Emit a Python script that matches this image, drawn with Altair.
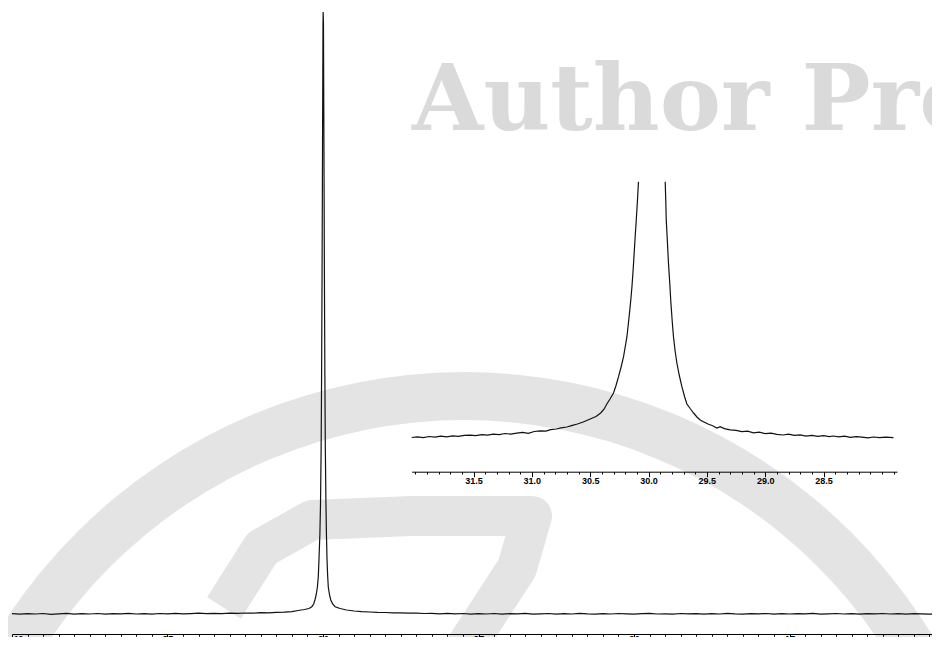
import altair as alt
import pandas as pd

# ---------------- main spectrum (ppm, height above baseline in px units) -------------
main_left_ppm = [40.00, 39.75, 39.50, 39.25, 39.00, 38.75, 38.50, 38.25, 38.00, 37.75,
                 37.50, 37.25, 37.00, 36.75, 36.50, 36.25, 36.00, 35.75, 35.50, 35.25,
                 35.00, 34.75, 34.50, 34.25, 34.00, 33.75, 33.50, 33.25, 33.00, 32.75,
                 32.50, 32.25, 32.00, 31.75, 31.50, 31.25, 31.00]
main_left_int = [0.3, -0.2, 0.4, 0.0, 0.5, -0.3, 0.2, 0.6, -0.1, 0.3,
                 0.0, 0.5, -0.2, 0.4, 0.1, 0.6, 0.0, 0.3, -0.2, 0.5,
                 0.2, 0.6, 0.1, 0.4, 0.8, 0.3, 0.7, 0.4, 0.9, 0.6,
                 1.0, 0.8, 1.3, 1.2, 1.6, 1.8, 2.3]

main_peak_ppm = [30.80, 30.60, 30.45, 30.36, 30.30, 30.26, 30.22, 30.18, 30.15, 30.13,
                 30.10, 30.08, 30.06, 30.045, 30.03, 30.015, 30.00, 29.995, 29.985, 29.97,
                 29.955, 29.94, 29.925, 29.905, 29.89, 29.87, 29.85, 29.83, 29.79, 29.75,
                 29.69, 29.61, 29.45, 29.24, 29.00, 28.75]
main_peak_int = [3.5, 4.5, 5.5, 7.3, 10, 14, 19, 27, 38, 54,
                 80, 110, 165, 240, 340, 470, 590, 602, 590, 470,
                 340, 240, 165, 110, 80, 54, 38, 27, 19, 14,
                 10, 7.3, 5.5, 4.0, 3.0, 2.4]

main_right_ppm = [28.50, 28.25, 28.00, 27.75, 27.50, 27.25, 27.00, 26.75, 26.50, 26.25,
                  26.00, 25.75, 25.50, 25.25, 25.00, 24.75, 24.50, 24.25, 24.00, 23.75,
                  23.50, 23.25, 23.00, 22.75, 22.50, 22.25, 22.00, 21.75, 21.50, 21.25,
                  21.00, 20.75, 20.50, 20.25, 20.00, 19.75, 19.50, 19.25, 19.00, 18.75,
                  18.50, 18.25, 18.00, 17.75, 17.50, 17.25, 17.00, 16.75, 16.50, 16.25,
                  16.00, 15.75, 15.50, 15.25, 15.00, 14.75, 14.50, 14.25, 14.00, 13.75,
                  13.50, 13.25, 13.00, 12.75, 12.50, 12.25, 12.00, 11.75, 11.50, 11.25,
                  11.00, 10.75, 10.50, 10.25, 10.00]
main_right_int = [2.0, 1.6, 1.5, 1.1, 1.2, 0.8, 0.9, 0.5, 0.7, 0.2,
                  0.6, 0.1, 0.5, -0.1, 0.4, 0.0, 0.5, -0.2, 0.3, 0.1,
                  0.6, -0.1, 0.2, 0.5, -0.2, 0.3, 0.0, 0.6, 0.1, -0.1,
                  0.4, 0.0, 0.5, 0.2, -0.2, 0.3, 0.6, 0.0, 0.2, -0.1,
                  0.5, 0.1, 0.4, -0.2, 0.3, 0.0, 0.6, 0.1, -0.1, 0.4,
                  0.2, 0.5, -0.2, 0.3, 0.0, 0.4, 0.1, 0.6, -0.1, 0.2,
                  0.5, 0.0, 0.3, -0.2, 0.4, 0.1, 0.5, 0.0, 0.3, -0.1,
                  0.4, 0.2, -0.2, 0.3, 0.1]

# ---------------- inset (expanded 32.0 - 27.9 ppm), heights in inset px units ---------
inset_low_ppm = [32.03, 31.98, 31.93, 31.88, 31.83, 31.78, 31.73, 31.68, 31.63, 31.58,
                 31.53, 31.48, 31.43, 31.38, 31.33, 31.28, 31.23, 31.18, 31.13, 31.08,
                 31.03, 30.98, 30.93, 30.88, 30.84, 30.79, 30.75, 30.70, 30.66, 30.61,
                 30.56, 30.50, 30.45, 30.41, 30.38, 30.36, 30.33, 30.30, 30.28, 30.257,
                 30.235, 30.214, 30.20, 30.185, 30.175, 30.163, 30.152, 30.142, 30.133, 30.123,
                 30.114, 30.105, 30.095, 30.086]
inset_low_int = [0.5, 1.2, 0.4, 1.5, 0.9, 1.8, 1.1, 2.2, 1.6, 2.6,
                 2.9, 2.3, 3.4, 2.8, 3.9, 3.3, 4.5, 3.9, 4.8, 5.6,
                 4.6, 6.5, 7.2, 6.9, 8.3, 9.0, 10.2, 11.0, 12.4, 14.0,
                 16.0, 19.0, 21.5, 25, 29, 33.5, 39, 45, 52, 61.3,
                 71, 81.3, 91, 101.3, 112, 125, 138, 151.3, 166, 185,
                 202, 218, 237, 256.3]

inset_high_ppm = [29.857, 29.852, 29.848, 29.838, 29.829, 29.818, 29.808, 29.797, 29.786, 29.772,
                  29.757, 29.735, 29.714, 29.69, 29.671, 29.64, 29.614, 29.585, 29.557, 29.529,
                  29.49, 29.45, 29.414, 29.386, 29.35, 29.30, 29.25, 29.20, 29.15, 29.10,
                  29.05, 29.00, 28.95, 28.90, 28.846, 28.80, 28.75, 28.70, 28.65, 28.60,
                  28.55, 28.50, 28.45, 28.417, 28.37, 28.32, 28.27, 28.22, 28.17, 28.12,
                  28.07, 28.02, 27.97, 27.90]
inset_high_int = [256.3, 237, 218, 196, 175, 155, 135, 117, 101.3, 87,
                  75, 62, 51.3, 41, 34, 29, 25, 21, 18, 16.3,
                  14, 12.2, 10, 11.3, 9.4, 8.1, 7.6, 6.3, 6.9, 5.2,
                  5.8, 4.4, 4.9, 3.6, 3.0, 3.8, 2.6, 3.1, 1.9, 2.7,
                  1.6, 2.3, 1.4, 2.0, 1.1, 1.8, 0.6, 1.3, 0.9, 0.2,
                  1.0, 0.4, 0.9, 0.3]

# ---------------- axis ticks ----------------
main_ticks = [round(40 - 0.5 * i, 1) for i in range(61)]
main_labels = [40, 35, 30, 25, 20, 15, 10]
inset_ticks = [round(32.0 - 0.1 * i, 1) for i in range(42)]
inset_labels = [31.5, 31.0, 30.5, 30.0, 29.5, 29.0, 28.5]

# ---------------- watermark decoration ----------------
watermark_text = ["Author Proof"]
logo_path_x = [212, 250, 300, 400, 520, 505, 440]
logo_path_y = [600, 540, 512, 508, 508, 560, 660]

assert len(main_left_ppm) == len(main_left_int)
assert len(main_peak_ppm) == len(main_peak_int)
assert len(main_right_ppm) == len(main_right_int)
assert len(inset_low_ppm) == len(inset_low_int)
assert len(inset_high_ppm) == len(inset_high_int)

main_df = pd.DataFrame({
    "ppm": main_left_ppm + main_peak_ppm + main_right_ppm,
    "intensity": main_left_int + main_peak_int + main_right_int,
})
inset_df = pd.DataFrame({
    "ppm": inset_low_ppm + inset_high_ppm,
    "intensity": inset_low_int + inset_high_int,
    "branch": ["low"] * len(inset_low_ppm) + ["high"] * len(inset_high_ppm),
})
logo_df = pd.DataFrame({"px": logo_path_x, "py": logo_path_y,
                        "k": list(range(len(logo_path_x)))})
wm_df = pd.DataFrame({"t": watermark_text})
ring_df = pd.DataFrame({"r": [1]})

GRAY = "#e4e4e4"
main_label_list = ",".join(str(v) for v in main_labels)
inset_label_list = ",".join(str(int(round(v * 10))) for v in inset_labels)

ring = alt.Chart(ring_df).mark_arc(
    radius=548, radius2=500, theta=4.712, theta2=7.854, color=GRAY
).encode(x=alt.value(452), y=alt.value(912))

seven = alt.Chart(logo_df).mark_line(
    color=GRAY, strokeWidth=40, strokeCap="butt", strokeJoin="round"
).encode(
    x=alt.X("px:Q", scale=None, axis=None),
    y=alt.Y("py:Q", scale=None, axis=None),
    order="k:Q",
)

watermark = alt.Chart(wm_df).mark_text(
    font="DejaVu Serif", fontWeight="bold", fontSize=92, color="#dadada",
    align="left", baseline="alphabetic"
).encode(text="t:N", x=alt.value(400), y=alt.value(122))

main_axis = alt.Axis(
    values=main_ticks,
    labelExpr=f"indexof([{main_label_list}], datum.value) >= 0 ? format(datum.value, 'd') : ''",
    tickSize={"condition": {"test": f"indexof([{main_label_list}], datum.value) >= 0", "value": 4.5},
              "value": 2.2},
    labelFlush=True, labelPadding=-3, labelFontSize=10, labelFontWeight="bold",
    labelOverlap=False, title=None, orient="bottom", grid=False, zindex=1,
)

main_line = alt.Chart(main_df).mark_line(color="#111111", strokeWidth=1.2).encode(
    x=alt.X("ppm:Q", scale=alt.Scale(domain=[10, 40], range=[933, 0], nice=False, zero=False),
            axis=main_axis),
    y=alt.Y("intensity:Q", scale=alt.Scale(domain=[0, 602], range=[606, 4], nice=False, zero=False),
            axis=None),
)

inset_axis = alt.Axis(
    values=inset_ticks,
    labelExpr=f"indexof([{inset_label_list}], round(datum.value * 10)) >= 0 ? format(datum.value, '.1f') : ''",
    tickSize={"condition": {"test": f"indexof([{inset_label_list}], round(datum.value * 10)) >= 0",
                            "value": 5}, "value": 2.3},
    labelPadding=0, labelFontSize=9, labelFontWeight="bold", labelOverlap=False, labelFlush=False,
    title=None, orient="bottom", offset=-162.3, grid=False, zindex=1,
)

inset_line = alt.Chart(inset_df).mark_line(color="#111111", strokeWidth=1.2).encode(
    x=alt.X("ppm:Q", scale=alt.Scale(domain=[27.87, 32.03], range=[885, 399.7], nice=False, zero=False),
            axis=inset_axis),
    y=alt.Y("intensity:Q", scale=alt.Scale(domain=[0, 256.3], range=[430, 173.7], nice=False, zero=False),
            axis=None),
    detail="branch:N",
)

chart = alt.layer(ring, seven, watermark, main_line, inset_line).resolve_scale(
    x="independent", y="independent"
).properties(
    width=920, height=626,
    padding={"left": 4, "top": 0, "right": 0, "bottom": 3},
    autosize=alt.AutoSizeParams(type="none"),
    background="white",
).configure_view(stroke=None).configure_axis(
    domainColor="#000000", domainWidth=1, tickColor="#000000", tickWidth=1,
    labelColor="#000000", labelFont="Liberation Sans",
)

chart.save("out.html", embed_options={"renderer": "svg", "actions": False})
